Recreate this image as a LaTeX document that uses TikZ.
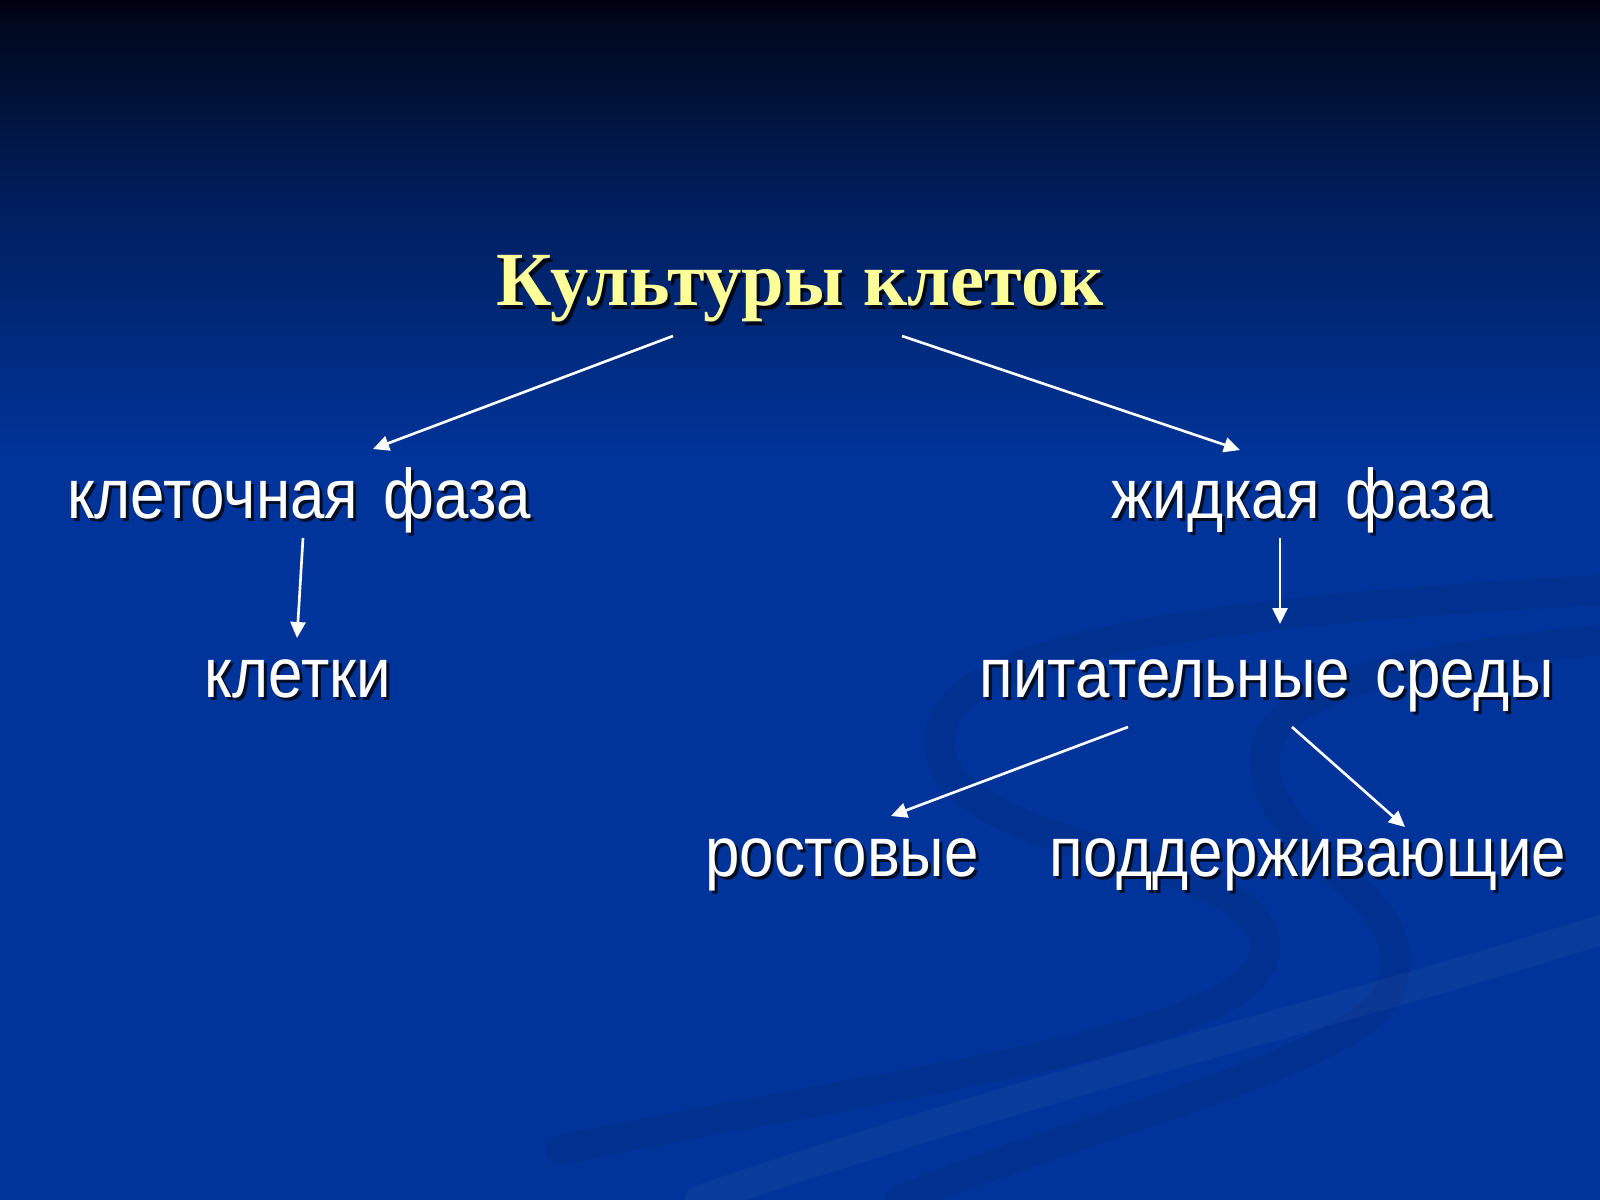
\documentclass[tikz,border=0pt]{standalone}
\usepackage{fontspec}
\setmainfont{Liberation Sans}[FakeStretch=0.88]
\newfontfamily\titlefont{Liberation Serif}[BoldFont={Liberation Serif Bold}]
\usetikzlibrary{calc,arrows.meta}
\definecolor{bgA}{HTML}{00000F}
\definecolor{bgB}{HTML}{00081C}
\definecolor{bgC}{HTML}{001E5C}
\definecolor{bgD}{HTML}{00349A}
\definecolor{titleyellow}{HTML}{FFFF99}
\newcommand{\wsp}{\hspace{0.36em}}
\tikzset{
  lbl/.style={anchor=base, inner sep=0pt, text=white, font=\fontsize{20pt}{24pt}\selectfont},
  lblsh/.style={lbl, text=black, opacity=0.75},
  ttl/.style={anchor=base, inner sep=0pt, text=titleyellow, font=\titlefont\bfseries\fontsize{21.8pt}{26pt}\selectfont},
  ttlsh/.style={ttl, text=black, opacity=0.8},
  arr/.style={draw=white, line width=0.75pt, -{Triangle[length=1.6mm,width=1.5mm]}},
  swirl/.style={line width=3mm, line cap=round, opacity=0.06, draw=black},
  swirllight/.style={line width=3mm, line cap=round, opacity=0.035, draw=white}
}
\begin{document}
\begin{tikzpicture}[x=0.1mm,y=-0.1mm]
\useasboundingbox (0,0) rectangle (1600,1200);
% background
\fill[bgD] (0,0) rectangle (1600,1200);
\shade[top color=bgA, bottom color=bgB] (0,0) rectangle (1600,20);
\shade[top color=bgB, bottom color=bgC] (0,20) rectangle (1600,200);
\shade[top color=bgC, bottom color=bgD] (0,200) rectangle (1600,460);
% swirl decoration
\draw[swirl] (1600,590) .. controls (1250,610) and (920,640) .. (940,750) .. controls (960,860) and (1270,850) .. (1265,950) .. controls (1260,1040) and (900,1080) .. (560,1150);
\draw[swirl] (1600,640) .. controls (1400,660) and (1230,690) .. (1270,790) .. controls (1310,880) and (1420,900) .. (1390,990) .. controls (1360,1060) and (1100,1120) .. (900,1200);
\draw[swirllight] (1600,930) .. controls (1350,1010) and (1050,1080) .. (700,1200);
% shadows
\node[ttlsh] at (803,309) {Культуры клеток};
\node[lblsh] at (302,521) {клеточная\wsp фаза};
\node[lblsh] at (1305,521) {жидкая\wsp фаза};
\node[lblsh] at (301,700) {клетки};
\node[lblsh] at (1270,700) {питательные\wsp среды};
\node[lblsh] at (845,879) {ростовые};
\node[lblsh] at (1311,879) {поддерживающие};
% texts
\node[ttl] (title) at (800,306) {Культуры клеток};
\node[lbl] (cell) at (299,518) {клеточная\wsp фаза};
\node[lbl] (liquid) at (1302,518) {жидкая\wsp фаза};
\node[lbl] (cells) at (298,697) {клетки};
\node[lbl] (media) at (1267,697) {питательные\wsp среды};
\node[lbl] (growth) at (842,876) {ростовые};
\node[lbl] (support) at (1308,876) {поддерживающие};
% connectors
\draw[arr] ($(title.base)+(-127,30)$) -- ($(cell.base)+(74,-69)$);
\draw[arr] ($(title.base)+(102,30)$) -- ($(liquid.base)+(-62,-68)$);
\draw[arr] ($(cell.base)+(4,20)$) -- ($(cells.base)+(-1,-59)$);
\draw[arr] ($(liquid.base)+(-22,20)$) -- ($(media.base)+(13,-73)$);
\draw[arr] ($(media.base)+(-139,30)$) -- ($(growth.base)+(49,-60)$);
\draw[arr] ($(media.base)+(25,30)$) -- ($(support.base)+(97,-49)$);
\end{tikzpicture}
\end{document}
